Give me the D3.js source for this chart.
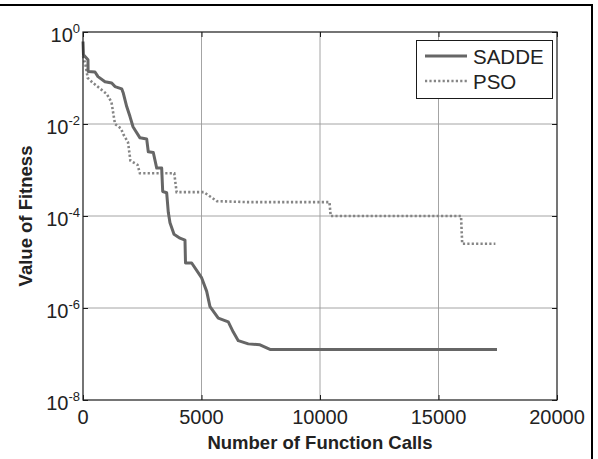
<!DOCTYPE html>
<html>
<head>
<meta charset="utf-8">
<script src="https://cdn.jsdelivr.net/npm/d3@7"></script>
<style>
  html, body { margin: 0; padding: 0; background: #fff; }
  svg { display: block; font-family: Arial, "Liberation Sans", Helvetica, sans-serif; }
</style>
</head>
<body>
<svg id="chart" width="598" height="459"></svg>
<script>
// Convergence history: number of function calls vs. best fitness value
const saddeCalls = [0, 20, 210, 215, 506, 633, 928, 1211, 1350, 1633, 1700, 1844, 1983, 2110, 2194, 2405, 2688, 2755, 2966, 3110, 3320, 3363, 3531, 3599, 3670, 3840, 4092, 4303, 4325, 4586, 5008, 5219, 5358, 5708, 6130, 6341, 6552, 6974, 7468, 7890, 17468];
const saddeFitness = [0.62, 0.32, 0.25, 0.138, 0.135, 0.107, 0.083, 0.078, 0.065, 0.058, 0.047, 0.024, 0.0145, 0.0087, 0.0074, 0.005, 0.0047, 0.0025, 0.0024, 0.0011, 0.0011, 3.4e-4, 3.2e-4, 1.2e-4, 7.1e-5, 4.0e-5, 3.3e-5, 3.0e-5, 9.5e-6, 9.5e-6, 4.5e-6, 2.3e-6, 1.07e-6, 6.0e-7, 5.0e-7, 3.0e-7, 1.95e-7, 1.66e-7, 1.58e-7, 1.26e-7, 1.26e-7];

const psoCalls = [0, 100, 200, 400, 700, 1000, 1200, 1350, 1600, 1700, 1900, 2000, 2300, 2400, 3850, 3950, 5100, 5300, 5650, 7000, 10400, 10450, 15950, 16000, 17400];
const psoFitness = [0.3, 0.2, 0.1, 0.08, 0.06, 0.045, 0.03, 0.01, 0.008, 0.006, 0.004, 0.0016, 0.0013, 8.5e-4, 8.5e-4, 3.3e-4, 3.3e-4, 2.8e-4, 2.1e-4, 2.0e-4, 2.0e-4, 1.0e-4, 1.0e-4, 2.5e-5, 2.5e-5];

const xTicks = [0, 5000, 10000, 15000, 20000];
const yTickExponents = [0, -2, -4, -6, -8];
const seriesNames = ["SADDE", "PSO"];

const svg = d3.select("#chart");
const W = 598, H = 459;
const plot = { left: 83, right: 557, top: 32, bottom: 400 };

const x = d3.scaleLinear().domain([0, 20000]).range([plot.left, plot.right]);
const y = d3.scaleLog().domain([1e-8, 1]).range([plot.bottom, plot.top]);

// Outer frame (top and right edges)
svg.append("line").attr("x1", 0).attr("x2", 593).attr("y1", 5).attr("y2", 5)
  .attr("stroke", "#000").attr("stroke-width", 2);
svg.append("line").attr("x1", 592).attr("x2", 592).attr("y1", 4).attr("y2", H)
  .attr("stroke", "#000").attr("stroke-width", 2);

// Grid
const grid = svg.append("g");
grid.selectAll(".gx").data(xTicks.slice(1, -1)).join("line")
  .attr("x1", d => x(d)).attr("x2", d => x(d))
  .attr("y1", plot.top).attr("y2", plot.bottom)
  .attr("stroke", "#9a9a9a").attr("stroke-width", 0.9);
grid.selectAll(".gy").data(yTickExponents.slice(1, -1)).join("line")
  .attr("x1", plot.left).attr("x2", plot.right)
  .attr("y1", d => y(Math.pow(10, d))).attr("y2", d => y(Math.pow(10, d)))
  .attr("stroke", "#9a9a9a").attr("stroke-width", 0.9);

// Series
const line = d3.line().x(d => x(d[0])).y(d => y(d[1]));
const sadde = saddeCalls.map((c, i) => [c, saddeFitness[i]]);
const pso = psoCalls.map((c, i) => [c, psoFitness[i]]);

svg.append("path").datum(pso).attr("d", line)
  .attr("fill", "none").attr("stroke", "#858585").attr("stroke-width", 2.6)
  .attr("stroke-dasharray", "2.2,2.2");
svg.append("path").datum(sadde).attr("d", line)
  .attr("fill", "none").attr("stroke", "#666").attr("stroke-width", 3)
  .attr("stroke-linejoin", "round");

// Axes box and ticks
const axisColor = "#1a1a1a";
svg.append("rect").attr("x", plot.left).attr("y", plot.top)
  .attr("width", plot.right - plot.left).attr("height", plot.bottom - plot.top)
  .attr("fill", "none").attr("stroke", axisColor).attr("stroke-width", 1.2);

const xAxisB = d3.axisBottom(x).tickValues(xTicks).tickSize(-5).tickFormat("");
const xAxisT = d3.axisTop(x).tickValues(xTicks).tickSize(-5).tickFormat("");
const yAxisL = d3.axisLeft(y).tickValues(yTickExponents.map(e => Math.pow(10, e))).tickSize(-5).tickFormat("");
const yAxisR = d3.axisRight(y).tickValues(yTickExponents.map(e => Math.pow(10, e))).tickSize(-5).tickFormat("");
[[xAxisB, `translate(0,${plot.bottom})`], [xAxisT, `translate(0,${plot.top})`],
 [yAxisL, `translate(${plot.left},0)`], [yAxisR, `translate(${plot.right},0)`]].forEach(([ax, tr]) => {
  const g = svg.append("g").attr("transform", tr).call(ax);
  g.select(".domain").remove();
  g.selectAll("line").attr("stroke", axisColor).attr("stroke-width", 1);
});

// X tick labels
svg.append("g").selectAll("text").data(xTicks).join("text")
  .attr("x", d => x(d)).attr("y", plot.bottom + 24)
  .attr("text-anchor", "middle").attr("font-size", 20).attr("fill", "#222")
  .text(d => d);

// Y tick labels: 10 with superscript exponent
const yl = svg.append("g").selectAll("text").data(yTickExponents).join("text")
  .attr("x", plot.left - 3).attr("y", d => y(Math.pow(10, d)) + 9.5)
  .attr("text-anchor", "end").attr("font-size", 20).attr("fill", "#222");
yl.append("tspan").text("10");
yl.append("tspan").attr("font-size", 13).attr("dy", -9).text(d => d);

// Axis titles
svg.append("text").attr("x", (plot.left + plot.right) / 2).attr("y", 449)
  .attr("text-anchor", "middle").attr("font-size", 18.5).attr("font-weight", "bold").attr("fill", "#222")
  .text("Number of Function Calls");
svg.append("text")
  .attr("transform", `translate(32,${(plot.top + plot.bottom) / 2}) rotate(-90)`)
  .attr("text-anchor", "middle").attr("font-size", 18.5).attr("font-weight", "bold").attr("fill", "#222")
  .text("Value of Fitness");

// Legend
const lg = svg.append("g");
lg.append("rect").attr("x", 416.5).attr("y", 40.5).attr("width", 136).attr("height", 58)
  .attr("fill", "#fff").attr("stroke", axisColor).attr("stroke-width", 1);
const legendStyles = [
  { stroke: "#666", width: 3, dash: null },
  { stroke: "#858585", width: 2.6, dash: "2.2,2.2" }
];
seriesNames.forEach((name, i) => {
  const cy = 56 + i * 25;
  const s = legendStyles[i];
  lg.append("line").attr("x1", 425).attr("x2", 467).attr("y1", cy).attr("y2", cy)
    .attr("stroke", s.stroke).attr("stroke-width", s.width)
    .attr("stroke-dasharray", s.dash);
  lg.append("text").attr("x", 473).attr("y", cy + 7.5)
    .attr("font-size", 20.5).attr("fill", "#222").text(name);
});
</script>
</body>
</html>
